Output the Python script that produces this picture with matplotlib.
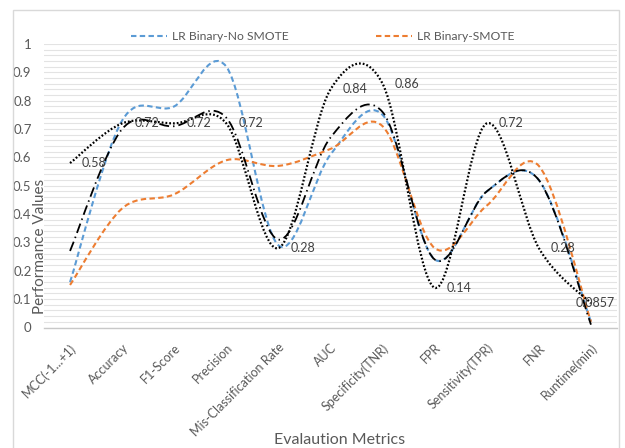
import numpy as np
import matplotlib.pyplot as plt
from matplotlib.path import Path
from matplotlib.patches import PathPatch, Rectangle
from matplotlib.lines import Line2D
from matplotlib.ticker import MultipleLocator

plt.rcParams['font.family'] = ['Lato', 'DejaVu Sans']

# values
metrics = ["MCC(-1...+1)", "Accuracy", "F1-Score", "Precision",
           "Mis-Classification Rate", "AUC", "Specificity(TNR)", "FPR",
           "Sensitivity(TPR)", "FNR", "Runtime(min)"]
no_smote = [0.16, 0.73, 0.78, 0.92, 0.29, 0.61, 0.75, 0.24, 0.48, 0.52, 0.02]
smote = [0.15, 0.42, 0.47, 0.59, 0.57, 0.63, 0.71, 0.28, 0.43, 0.57, 0.02]
dash_dot = [0.27, 0.70, 0.71, 0.74, 0.31, 0.67, 0.76, 0.24, 0.48, 0.52, 0.01]
dotted = [0.58, 0.72, 0.72, 0.72, 0.28, 0.84, 0.86, 0.14, 0.72, 0.28, 0.0857]

GRAY = "#595959"
BLUE = "#5B9BD5"
ORANGE = "#ED7D31"


def smooth_path(ys):
    """Excel-like smoothed line: Catmull-Rom segments as cubic Bezier curves."""
    pts = np.column_stack([np.arange(len(ys)), ys]).astype(float)
    n = len(pts)
    verts = [pts[0]]
    codes = [Path.MOVETO]
    for i in range(n - 1):
        p0 = pts[max(i - 1, 0)]
        p1 = pts[i]
        p2 = pts[i + 1]
        p3 = pts[min(i + 2, n - 1)]
        verts += [p1 + (p2 - p0) / 6, p2 - (p3 - p1) / 6, p2]
        codes += [Path.CURVE4] * 3
    return Path(verts, codes)


styles = [
    (no_smote, dict(color=BLUE, lw=1.5, ls=(0, (2.6, 1.6)))),
    (smote, dict(color=ORANGE, lw=1.5, ls=(0, (2.6, 1.6)))),
    (dash_dot, dict(color="black", lw=1.3, ls=(0, (5.5, 2.2, 0.8, 2.2)))),
    (dotted, dict(color="black", lw=1.6, ls=(0, (0.8, 0.9)))),
]

fig = plt.figure(figsize=(6.25, 4.48), dpi=100)
ax = fig.add_axes([44 / 625, 1 - 327.5 / 448, (617 - 44) / 625, (327.5 - 44) / 448])

for vals, st in styles:
    ax.add_patch(PathPatch(smooth_path(vals), fill=False, edgecolor=st["color"],
                           lw=st["lw"], linestyle=st["ls"], zorder=3))

for i, v in enumerate(dotted):
    if i == len(dotted) - 1:
        ax.annotate(f"{v:g}", (i, v), xytext=(4, 0), textcoords="offset pixels",
                    ha="center", va="center", fontsize=9, color="#404040", zorder=4)
    else:
        ax.annotate(f"{v:g}", (i, v), xytext=(12, 0), textcoords="offset pixels",
                    ha="left", va="center", fontsize=9, color="#404040", zorder=4)

ax.set_xlim(-0.5, len(metrics) - 0.5)
ax.set_ylim(0, 1)
ax.set_xticks(range(len(metrics)))
ax.set_xticklabels(metrics, rotation=45, ha="right", rotation_mode="anchor",
                   fontsize=9, color=GRAY)
ax.yaxis.set_major_locator(MultipleLocator(0.1))
ax.yaxis.set_minor_locator(MultipleLocator(0.02))
ax.set_yticks(np.arange(0, 1.01, 0.1))
ax.set_yticklabels([f"{t:g}" for t in np.arange(0, 1.01, 0.1).round(1)],
                   fontsize=9.5, color=GRAY)
ax.tick_params(axis="both", which="both", length=0)
ax.tick_params(axis="x", pad=10)
ax.tick_params(axis="y", pad=9)
ax.grid(True, which="both", axis="y", color="#E3E3E3", lw=0.8)
ax.set_axisbelow(True)
for side in ["top", "right", "left"]:
    ax.spines[side].set_visible(False)
ax.spines["bottom"].set_color("#C8C8C8")
ax.spines["bottom"].set_linewidth(1.0)

ax.set_ylabel("Performance Values", fontsize=11, color=GRAY, va="center")
ax.yaxis.set_label_coords((40 - 44) / 573, (327.5 - 246) / 283.5)
fig.text(340 / 625, 1 - 440 / 448, "Evalaution Metrics", ha="center", va="center",
         fontsize=11.5, color=GRAY)

handles = [Line2D([], [], color=BLUE, lw=1.5, ls=(0, (2.6, 1.6))),
           Line2D([], [], color=ORANGE, lw=1.5, ls=(0, (2.6, 1.6)))]
leg = ax.legend(handles, ["LR Binary-No SMOTE", "LR Binary-SMOTE"], ncol=2,
                loc="center", bbox_to_anchor=(0.486, 1.025), frameon=False,
                fontsize=8.7, handlelength=3.0, handletextpad=0.4, columnspacing=7.2)
for t in leg.get_texts():
    t.set_color(GRAY)

fig.patches.append(Rectangle((13 / 625, -0.05), (619 - 13) / 625, 1 - 10 / 448 + 0.05,
                             transform=fig.transFigure, fill=False,
                             edgecolor="#D9D9D9", lw=1))

fig.savefig("out.png", dpi=100)
